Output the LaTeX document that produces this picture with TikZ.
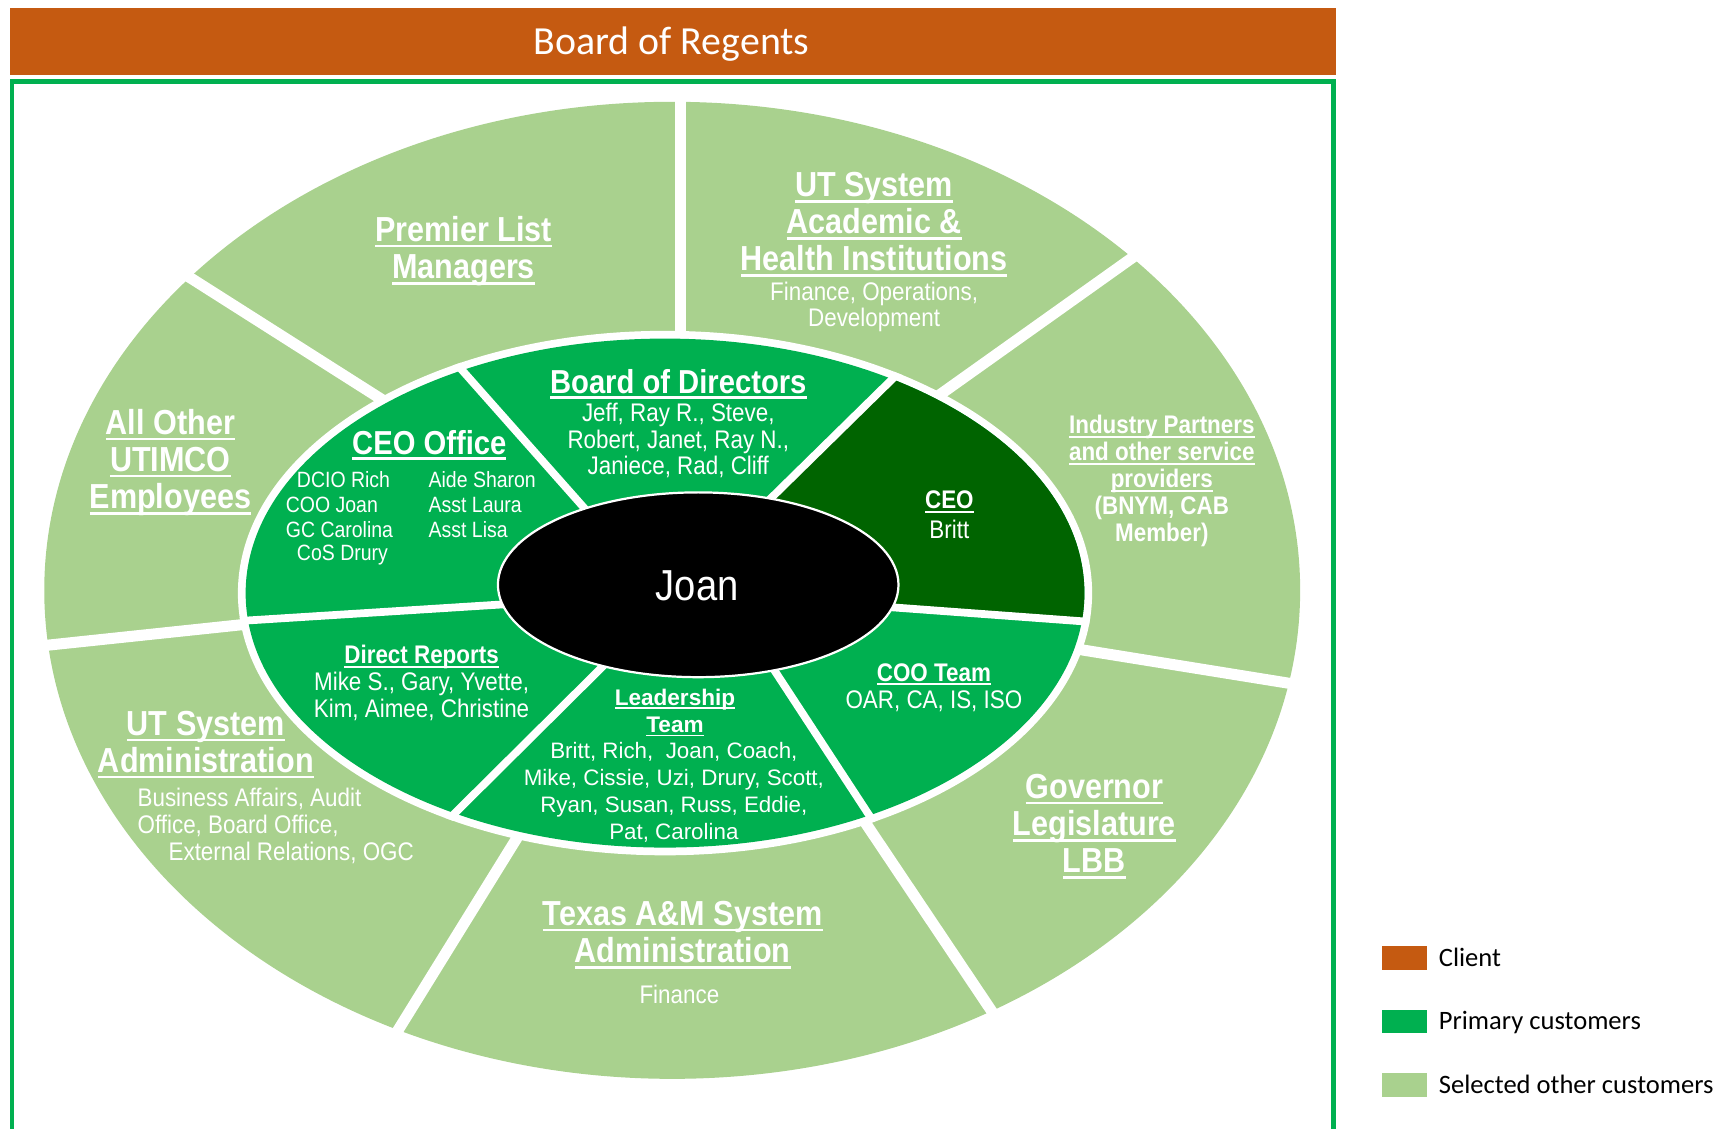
\documentclass[tikz,border=0pt]{standalone}
\usepackage{fontspec}
\setmainfont{Liberation Sans}
\newfontfamily\nar[FakeStretch=0.88]{Liberation Sans}
\newfontfamily\carl{Carlito}
\usetikzlibrary{calc}
\definecolor{orng}{HTML}{C55A11}
\definecolor{prim}{HTML}{00B050}
\definecolor{lite}{HTML}{A9D18E}
\definecolor{dark}{HTML}{006400}
\newsavebox\ulbox
\newcommand{\ul}[1]{\sbox\ulbox{#1}\rlap{\rule[-0.17em]{\wd\ulbox}{0.075em}}\usebox\ulbox}
\begin{document}
\begin{tikzpicture}[x=0.5pt,y=-0.5pt,
  big/.style={text=white, align=center, inner sep=0pt, yshift=-1.5pt, font=\nar\bfseries\fontsize{15.7pt}{16.8pt}\selectfont},
  bigm/.style={big, font=\nar\bfseries\fontsize{15pt}{16.8pt}\selectfont},
  mid/.style={text=white, align=center, inner sep=0pt, yshift=-1.2pt, font=\nar\bfseries\fontsize{11.5pt}{12.2pt}\selectfont},
  sub/.style={text=white, align=center, inner sep=0pt, yshift=-1.2pt, font=\nar\fontsize{11.5pt}{12pt}\selectfont},
  col/.style={text=white, anchor=west, inner sep=0pt, font=\nar\fontsize{10pt}{11.5pt}\selectfont},
  ldh/.style={text=white, align=center, inner sep=0pt, yshift=-1.2pt, font=\bfseries\fontsize{10.2pt}{12.4pt}\selectfont},
  ldn/.style={text=white, align=center, inner sep=0pt, yshift=-1.1pt, font=\fontsize{10.1pt}{12.15pt}\selectfont},
  leg/.style={anchor=base west, inner sep=0pt, font=\carl\fontsize{12pt}{14pt}\selectfont},
  gapo/.style={white, line width=5pt},
  gapm/.style={white, line width=3.5pt}]
\useasboundingbox (0,0) rectangle (1568,1020);
% banner and frame
\fill[orng] (9,7) rectangle (1207,68);
\node[font=\carl\fontsize{18pt}{20pt}\selectfont, text=white, inner sep=0pt] (bor) at (607,40) {Board of Regents};
\draw[prim, line width=2pt] (11,1030) -- (11,73.5) -- (1205,73.5) -- (1205,1030);
% outer ring
\fill[lite] (607.5,533.5) ellipse [x radius=283.75pt, y radius=220.75pt];
\coordinate (g1o) at (615,85);   \coordinate (g1i) at (615,305);
\coordinate (g2o) at (1019,236); \coordinate (g2i) at (849,357);
\coordinate (g3o) at (1168,618); \coordinate (g3i) at (982,588);
\coordinate (g4o) at (895,912);  \coordinate (g4i) at (781,742);
\coordinate (g5o) at (361,929);  \coordinate (g5i) at (468,756);
\coordinate (g6o) at (44,583);   \coordinate (g6i) at (224,564);
\coordinate (g7o) at (175,253);  \coordinate (g7i) at (345,361);
\begin{scope}
\clip (607.5,533.5) ellipse [x radius=284.5pt, y radius=221.5pt];
\foreach \g in {g1,g2,g3,g4,g5,g6,g7}
  \draw[gapo] ($(\g o)!-0.2!(\g i)$) -- ($(\g o)!1.2!(\g i)$);
\end{scope}
% middle ring
\fill[white] (601,536) ellipse [x radius=193pt, y radius=118.5pt];
\fill[prim] (601,536) ellipse [x radius=189.5pt, y radius=115pt];
\coordinate (m1o) at (418,335); \coordinate (m1i) at (527,458);
\coordinate (m2o) at (805,344); \coordinate (m2i) at (697,450);
\coordinate (m3o) at (985,562); \coordinate (m3i) at (808,549);
\coordinate (m4o) at (785,736); \coordinate (m4i) at (698,603);
\coordinate (m5o) at (410,736); \coordinate (m5i) at (543,604);
\coordinate (m6o) at (220,561); \coordinate (m6i) at (458,546);
\begin{scope}
\clip (601,536) ellipse [x radius=189.5pt, y radius=115pt];
\fill[dark] ($(m2o)!1.5!(m2i)$) -- ($(m2i)!3!(m2o)$) -- ($(m3i)!3!(m3o)$) -- ($(m3o)!1.5!(m3i)$) -- cycle;
\end{scope}
\begin{scope}
\clip (601,536) ellipse [x radius=193pt, y radius=118.5pt];
\foreach \m in {m1,m2,m3,m4,m5,m6}
  \draw[gapm] ($(\m o)!-0.2!(\m i)$) -- ($(\m o)!1.3!(\m i)$);
\end{scope}
% center
\draw[white, line width=1pt, fill=black] (631,528.5) ellipse [x radius=90.5pt, y radius=41.75pt];
\node[text=white, font=\nar\fontsize{19.6pt}{22pt}\selectfont, inner sep=0pt] (joan) at (630,529) {Joan};
% outer texts
\node[big] (prem) at (419,224) {\ul{Premier List}\\\ul{Managers}};
\node[big] (utac) at (790,200) {\ul{UT System}\\\ul{Academic \&}\\\ul{Health Institutions}};
\node[sub] (utacs) at (790,275) {Finance, Operations,\\Development};
\node[mid] (ind) at (1050,408) {\ul{Industry Partners}\\\ul{and other service}\\\ul{providers}};
\node[mid] (indb) at (1050,469) {(BNYM, CAB\\Member)};
\node[big] (gov) at (989,744) {\ul{Governor}\\\ul{Legislature}\\\ul{LBB}};
\node[big] (tam) at (617,842) {\ul{Texas A\&M System}\\\ul{Administration}};
\node[sub] (tams) at (614,896) {Finance};
\node[big] (utad) at (186,670) {\ul{UT System}\\\ul{Administration}};
\node[sub, anchor=west] (uta1) at (124,720) {Business Affairs, Audit};
\node[sub, anchor=west] (uta2) at (124,744) {Office, Board Office,};
\node[sub, anchor=west] (uta3) at (152,768) {External Relations, OGC};
\node[big] (allo) at (154,415) {\ul{All Other}\\\ul{UTIMCO}\\\ul{Employees}};
% middle texts
\node[bigm] (ceoo) at (388,399) {\ul{CEO Office}};
\node[col] (c1) at (268,433) {DCIO Rich};
\node[col] (c2) at (258,456) {COO Joan};
\node[col] (c3) at (258,479) {GC Carolina};
\node[col] (c4) at (268,502) {CoS Drury};
\node[col] (c5) at (387,433) {Aide Sharon};
\node[col] (c6) at (387,456) {Asst Laura};
\node[col] (c7) at (387,479) {Asst Lisa};
\node[bigm] (bod) at (613,344) {\ul{Board of Directors}};
\node[sub] (bodn) at (613,396) {Jeff, Ray R., Steve,\\Robert, Janet, Ray N.,\\Janiece, Rad, Cliff};
\node[mid] (ceo) at (858,451) {\ul{CEO}};
\node[sub] (britt) at (858,476) {Britt};
\node[mid] (coo) at (844,607) {\ul{COO Team}};
\node[sub] (coon) at (844,631) {OAR, CA, IS, ISO};
\node[ldh] (lead) at (610,641.5) {\ul{Leadership}\\\ul{Team}};
\node[ldn] (leadn) at (609,714) {Britt, Rich,\ \ Joan, Coach,\\Mike, Cissie, Uzi, Drury, Scott,\\Ryan, Susan, Russ, Eddie,\\Pat, Carolina};
\node[mid] (dr) at (381,591) {\ul{Direct Reports}};
\node[sub] (drn) at (381,627) {Mike S., Gary, Yvette,\\Kim, Aimee, Christine};
% legend
\fill[orng] (1249,855) rectangle (1290,877);
\fill[prim] (1249,913) rectangle (1290,934);
\fill[lite] (1249,970) rectangle (1290,991);
\node[leg] (l1) at (1300,873.5) {Client};
\node[leg] (l2) at (1300,930.5) {Primary customers};
\node[leg] (l3) at (1300,988.5) {Selected other customers};
\end{tikzpicture}
\end{document}
